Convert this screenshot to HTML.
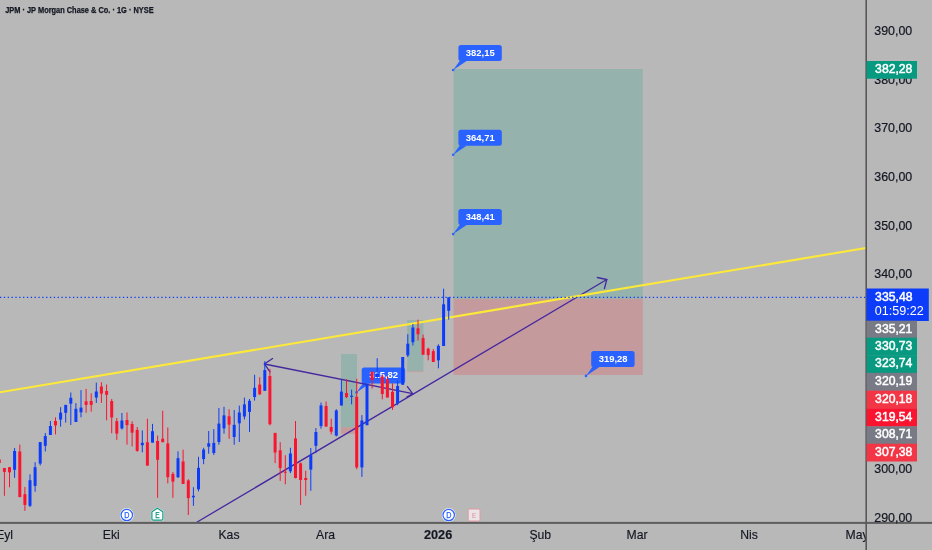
<!DOCTYPE html>
<html lang="tr"><head><meta charset="utf-8"><title>JPM</title>
<style>html,body{margin:0;padding:0;background:#b8b8b8;overflow:hidden}svg{display:block}text{font-family:"Liberation Sans",sans-serif}</style></head><body>
<svg width="932" height="550" viewBox="0 0 932 550">
<rect width="932" height="550" fill="#b8b8b8"/>
<g>
<rect x="341" y="354" width="16" height="73.3" fill="#96b2ac"/>
<rect x="341" y="427.3" width="16" height="6.5" fill="#c49a9d"/>
<rect x="407.2" y="320" width="16.2" height="51.3" fill="#96b2ac"/>
<rect x="407.2" y="371.3" width="16.2" height="0.8" fill="#c49a9d"/>
<rect x="453.5" y="69" width="189.3" height="229.8" fill="#96b2ac"/>
<rect x="453.5" y="298.8" width="189.3" height="76.2" fill="#c49a9d"/>
</g>
<g><circle cx="356.5" cy="392.4" r="1.3" fill="#2962ff"/><path d="M356.5 392.4 L363.3 382.8 L369.9 383.4 Z" fill="#2962ff"/><rect x="361.7" y="367.4" width="43.4" height="16.0" rx="2.5" fill="#2962ff"/><text x="383.6" y="378.3" font-size="9.45" font-weight="700" fill="#fff" text-anchor="middle">315,82</text></g>
<g stroke="#4527a0" stroke-width="1.3" fill="none" stroke-linecap="round">
<path d="M197.2 522 L606.8 279.5"/>
<path d="M597.3 277.5 L606.8 279.5 L604.4 288.6"/>
<path d="M264.4 364 L412.7 393.7"/>
<path d="M272.6 358.5 L264.4 364 L270 371.9"/>
<path d="M407.4 386.6 L412.7 393.7 L406.8 397"/>
</g>
<path d="M-2 392.63 L866 248.0" stroke="#fde937" stroke-width="2.1" fill="none"/>
<g>
<rect x="-1.2" y="457.0" width="1" height="9.0" fill="#fb1430"/>
<rect x="-2.2" y="459.5" width="3" height="3.5" fill="#fb1430"/>
<rect x="3.9" y="468.0" width="1" height="27.8" fill="#fb1430"/>
<rect x="2.9" y="468.0" width="3" height="3.9" fill="#fb1430"/>
<rect x="9.0" y="467.2" width="1" height="20.1" fill="#fb1430"/>
<rect x="8.0" y="467.2" width="3" height="5.1" fill="#fb1430"/>
<rect x="14.1" y="448.0" width="1" height="29.8" fill="#0c3cfa"/>
<rect x="13.1" y="451.0" width="3" height="18.8" fill="#0c3cfa"/>
<rect x="19.3" y="444.6" width="1" height="52.5" fill="#fb1430"/>
<rect x="18.3" y="451.5" width="3" height="45.6" fill="#fb1430"/>
<rect x="24.4" y="486.9" width="1" height="24.0" fill="#fb1430"/>
<rect x="23.4" y="494.2" width="3" height="10.7" fill="#fb1430"/>
<rect x="29.5" y="474.3" width="1" height="32.7" fill="#0c3cfa"/>
<rect x="28.5" y="480.2" width="3" height="25.6" fill="#0c3cfa"/>
<rect x="34.6" y="462.2" width="1" height="29.5" fill="#0c3cfa"/>
<rect x="33.6" y="467.2" width="3" height="18.7" fill="#0c3cfa"/>
<rect x="39.7" y="442.1" width="1" height="23.3" fill="#0c3cfa"/>
<rect x="38.7" y="442.1" width="3" height="21.5" fill="#0c3cfa"/>
<rect x="44.8" y="433.0" width="1" height="18.5" fill="#0c3cfa"/>
<rect x="43.8" y="436.0" width="3" height="9.8" fill="#0c3cfa"/>
<rect x="49.9" y="421.0" width="1" height="14.0" fill="#0c3cfa"/>
<rect x="48.9" y="426.0" width="3" height="9.0" fill="#0c3cfa"/>
<rect x="55.0" y="417.4" width="1" height="17.0" fill="#fb1430"/>
<rect x="54.0" y="421.0" width="3" height="4.4" fill="#fb1430"/>
<rect x="60.1" y="407.2" width="1" height="19.5" fill="#0c3cfa"/>
<rect x="59.1" y="412.6" width="3" height="7.0" fill="#0c3cfa"/>
<rect x="65.2" y="404.9" width="1" height="17.7" fill="#0c3cfa"/>
<rect x="64.2" y="404.9" width="3" height="7.9" fill="#0c3cfa"/>
<rect x="70.3" y="392.5" width="1" height="32.5" fill="#0c3cfa"/>
<rect x="69.3" y="397.8" width="3" height="5.9" fill="#0c3cfa"/>
<rect x="75.4" y="403.1" width="1" height="18.9" fill="#0c3cfa"/>
<rect x="74.4" y="408.8" width="3" height="13.2" fill="#0c3cfa"/>
<rect x="80.5" y="390.1" width="1" height="27.2" fill="#0c3cfa"/>
<rect x="79.5" y="407.6" width="3" height="4.7" fill="#0c3cfa"/>
<rect x="85.6" y="388.9" width="1" height="23.9" fill="#fb1430"/>
<rect x="84.6" y="401.3" width="3" height="3.6" fill="#fb1430"/>
<rect x="90.7" y="393.3" width="1" height="18.4" fill="#fb1430"/>
<rect x="89.7" y="401.0" width="3" height="3.9" fill="#fb1430"/>
<rect x="95.8" y="382.6" width="1" height="20.3" fill="#0c3cfa"/>
<rect x="94.8" y="391.5" width="3" height="6.0" fill="#0c3cfa"/>
<rect x="100.9" y="382.2" width="1" height="20.7" fill="#fb1430"/>
<rect x="99.9" y="386.5" width="3" height="7.1" fill="#fb1430"/>
<rect x="106.1" y="384.5" width="1" height="35.8" fill="#fb1430"/>
<rect x="105.1" y="391.0" width="3" height="3.8" fill="#fb1430"/>
<rect x="111.2" y="399.0" width="1" height="34.3" fill="#fb1430"/>
<rect x="110.2" y="401.0" width="3" height="16.5" fill="#fb1430"/>
<rect x="116.3" y="418.0" width="1" height="21.9" fill="#fb1430"/>
<rect x="115.3" y="421.1" width="3" height="12.5" fill="#fb1430"/>
<rect x="121.4" y="413.0" width="1" height="16.6" fill="#0c3cfa"/>
<rect x="120.4" y="420.5" width="3" height="7.9" fill="#0c3cfa"/>
<rect x="126.5" y="412.4" width="1" height="32.2" fill="#fb1430"/>
<rect x="125.5" y="420.0" width="3" height="5.1" fill="#fb1430"/>
<rect x="131.6" y="421.3" width="1" height="25.1" fill="#fb1430"/>
<rect x="130.6" y="424.0" width="3" height="8.7" fill="#fb1430"/>
<rect x="136.7" y="427.0" width="1" height="24.7" fill="#fb1430"/>
<rect x="135.7" y="429.9" width="3" height="21.0" fill="#fb1430"/>
<rect x="141.8" y="430.4" width="1" height="21.9" fill="#0c3cfa"/>
<rect x="140.8" y="442.8" width="3" height="2.4" fill="#0c3cfa"/>
<rect x="146.9" y="418.8" width="1" height="46.8" fill="#fb1430"/>
<rect x="145.9" y="442.2" width="3" height="23.4" fill="#fb1430"/>
<rect x="152.0" y="423.9" width="1" height="18.7" fill="#0c3cfa"/>
<rect x="151.0" y="431.2" width="3" height="11.4" fill="#0c3cfa"/>
<rect x="157.1" y="435.5" width="1" height="62.3" fill="#fb1430"/>
<rect x="156.1" y="441.0" width="3" height="18.8" fill="#fb1430"/>
<rect x="162.2" y="410.7" width="1" height="31.5" fill="#fb1430"/>
<rect x="161.2" y="438.7" width="3" height="3.5" fill="#fb1430"/>
<rect x="167.3" y="427.5" width="1" height="55.9" fill="#fb1430"/>
<rect x="166.3" y="443.4" width="3" height="33.8" fill="#fb1430"/>
<rect x="172.4" y="472.1" width="1" height="25.7" fill="#fb1430"/>
<rect x="171.4" y="473.9" width="3" height="7.7" fill="#fb1430"/>
<rect x="177.5" y="451.3" width="1" height="26.7" fill="#0c3cfa"/>
<rect x="176.5" y="458.2" width="3" height="19.0" fill="#0c3cfa"/>
<rect x="182.6" y="449.7" width="1" height="34.3" fill="#fb1430"/>
<rect x="181.6" y="461.5" width="3" height="22.5" fill="#fb1430"/>
<rect x="187.8" y="479.2" width="1" height="35.8" fill="#fb1430"/>
<rect x="186.8" y="480.4" width="3" height="17.7" fill="#fb1430"/>
<rect x="192.9" y="487.2" width="1" height="18.6" fill="#0c3cfa"/>
<rect x="191.9" y="495.8" width="3" height="1.5" fill="#0c3cfa"/>
<rect x="198.0" y="456.8" width="1" height="34.6" fill="#0c3cfa"/>
<rect x="197.0" y="467.8" width="3" height="21.5" fill="#0c3cfa"/>
<rect x="203.1" y="447.8" width="1" height="16.4" fill="#0c3cfa"/>
<rect x="202.1" y="449.6" width="3" height="9.5" fill="#0c3cfa"/>
<rect x="208.2" y="431.0" width="1" height="22.7" fill="#0c3cfa"/>
<rect x="207.2" y="443.3" width="3" height="3.4" fill="#0c3cfa"/>
<rect x="213.3" y="429.1" width="1" height="25.9" fill="#0c3cfa"/>
<rect x="212.3" y="442.9" width="3" height="10.1" fill="#0c3cfa"/>
<rect x="218.4" y="408.0" width="1" height="36.7" fill="#0c3cfa"/>
<rect x="217.4" y="423.6" width="3" height="18.4" fill="#0c3cfa"/>
<rect x="223.5" y="406.8" width="1" height="26.9" fill="#0c3cfa"/>
<rect x="222.5" y="415.4" width="3" height="13.0" fill="#0c3cfa"/>
<rect x="228.6" y="409.3" width="1" height="29.5" fill="#fb1430"/>
<rect x="227.6" y="416.3" width="3" height="8.3" fill="#fb1430"/>
<rect x="233.7" y="410.0" width="1" height="34.7" fill="#0c3cfa"/>
<rect x="232.7" y="424.8" width="3" height="12.2" fill="#0c3cfa"/>
<rect x="238.8" y="405.6" width="1" height="36.4" fill="#0c3cfa"/>
<rect x="237.8" y="412.5" width="3" height="10.8" fill="#0c3cfa"/>
<rect x="243.9" y="397.6" width="1" height="21.9" fill="#0c3cfa"/>
<rect x="242.9" y="404.4" width="3" height="12.1" fill="#0c3cfa"/>
<rect x="249.0" y="399.0" width="1" height="32.9" fill="#0c3cfa"/>
<rect x="248.0" y="400.8" width="3" height="11.1" fill="#0c3cfa"/>
<rect x="254.1" y="374.8" width="1" height="25.8" fill="#0c3cfa"/>
<rect x="253.1" y="387.8" width="3" height="9.2" fill="#0c3cfa"/>
<rect x="259.2" y="377.2" width="1" height="17.7" fill="#fb1430"/>
<rect x="258.2" y="384.6" width="3" height="9.7" fill="#fb1430"/>
<rect x="264.3" y="361.2" width="1" height="29.6" fill="#0c3cfa"/>
<rect x="263.3" y="370.1" width="3" height="20.7" fill="#0c3cfa"/>
<rect x="269.4" y="368.9" width="1" height="56.5" fill="#fb1430"/>
<rect x="268.4" y="376.0" width="3" height="48.2" fill="#fb1430"/>
<rect x="274.6" y="432.9" width="1" height="30.2" fill="#fb1430"/>
<rect x="273.6" y="432.9" width="3" height="19.6" fill="#fb1430"/>
<rect x="279.7" y="442.2" width="1" height="38.6" fill="#fb1430"/>
<rect x="278.7" y="450.3" width="3" height="17.8" fill="#fb1430"/>
<rect x="284.8" y="455.2" width="1" height="29.1" fill="#fb1430"/>
<rect x="283.8" y="471.7" width="3" height="1.0" fill="#fb1430"/>
<rect x="289.9" y="447.8" width="1" height="25.3" fill="#0c3cfa"/>
<rect x="288.9" y="453.5" width="3" height="17.8" fill="#0c3cfa"/>
<rect x="295.0" y="421.0" width="1" height="57.4" fill="#fb1430"/>
<rect x="294.0" y="438.4" width="3" height="39.6" fill="#fb1430"/>
<rect x="300.1" y="462.5" width="1" height="42.5" fill="#fb1430"/>
<rect x="299.1" y="463.3" width="3" height="16.7" fill="#fb1430"/>
<rect x="305.2" y="470.7" width="1" height="25.1" fill="#fb1430"/>
<rect x="304.2" y="478.0" width="3" height="2.0" fill="#fb1430"/>
<rect x="310.3" y="448.0" width="1" height="42.8" fill="#0c3cfa"/>
<rect x="309.3" y="455.1" width="3" height="14.5" fill="#0c3cfa"/>
<rect x="315.4" y="428.1" width="1" height="25.0" fill="#0c3cfa"/>
<rect x="314.4" y="432.0" width="3" height="13.8" fill="#0c3cfa"/>
<rect x="320.5" y="402.5" width="1" height="26.2" fill="#0c3cfa"/>
<rect x="319.5" y="405.4" width="3" height="20.7" fill="#0c3cfa"/>
<rect x="325.6" y="401.5" width="1" height="25.1" fill="#fb1430"/>
<rect x="324.6" y="406.0" width="3" height="20.6" fill="#fb1430"/>
<rect x="330.7" y="418.7" width="1" height="15.7" fill="#fb1430"/>
<rect x="329.7" y="427.0" width="3" height="4.7" fill="#fb1430"/>
<rect x="335.8" y="409.2" width="1" height="27.2" fill="#0c3cfa"/>
<rect x="334.8" y="410.4" width="3" height="25.2" fill="#0c3cfa"/>
<rect x="340.9" y="379.9" width="1" height="25.6" fill="#0c3cfa"/>
<rect x="339.9" y="391.6" width="3" height="13.9" fill="#0c3cfa"/>
<rect x="346.0" y="379.3" width="1" height="18.8" fill="#fb1430"/>
<rect x="345.0" y="393.0" width="3" height="4.1" fill="#fb1430"/>
<rect x="351.1" y="389.6" width="1" height="14.7" fill="#0c3cfa"/>
<rect x="350.1" y="395.7" width="3" height="1.2" fill="#0c3cfa"/>
<rect x="356.2" y="378.7" width="1" height="90.6" fill="#fb1430"/>
<rect x="355.2" y="396.8" width="3" height="70.6" fill="#fb1430"/>
<rect x="361.4" y="415.1" width="1" height="61.8" fill="#0c3cfa"/>
<rect x="360.4" y="420.5" width="3" height="46.9" fill="#0c3cfa"/>
<rect x="366.5" y="384.5" width="1" height="40.7" fill="#0c3cfa"/>
<rect x="365.5" y="384.5" width="3" height="40.7" fill="#0c3cfa"/>
<rect x="371.6" y="371.0" width="1" height="17.6" fill="#fb1430"/>
<rect x="370.6" y="372.0" width="3" height="8.0" fill="#fb1430"/>
<rect x="376.7" y="358.2" width="1" height="20.8" fill="#0c3cfa"/>
<rect x="375.7" y="374.0" width="3" height="3.0" fill="#0c3cfa"/>
<rect x="381.8" y="374.5" width="1" height="24.8" fill="#fb1430"/>
<rect x="380.8" y="376.6" width="3" height="17.4" fill="#fb1430"/>
<rect x="386.9" y="376.3" width="1" height="21.2" fill="#fb1430"/>
<rect x="385.9" y="379.3" width="3" height="18.2" fill="#fb1430"/>
<rect x="392.0" y="383.4" width="1" height="26.5" fill="#fb1430"/>
<rect x="391.0" y="391.8" width="3" height="15.5" fill="#fb1430"/>
<rect x="397.1" y="380.8" width="1" height="24.4" fill="#0c3cfa"/>
<rect x="396.1" y="385.9" width="3" height="17.2" fill="#0c3cfa"/>
<rect x="402.2" y="357.0" width="1" height="28.0" fill="#0c3cfa"/>
<rect x="401.2" y="357.0" width="3" height="27.7" fill="#0c3cfa"/>
<rect x="407.3" y="334.2" width="1" height="22.8" fill="#0c3cfa"/>
<rect x="406.3" y="343.7" width="3" height="11.6" fill="#0c3cfa"/>
<rect x="412.4" y="324.0" width="1" height="21.5" fill="#0c3cfa"/>
<rect x="411.4" y="327.5" width="3" height="14.7" fill="#0c3cfa"/>
<rect x="417.5" y="319.7" width="1" height="20.8" fill="#fb1430"/>
<rect x="416.5" y="328.3" width="3" height="5.9" fill="#fb1430"/>
<rect x="422.6" y="334.6" width="1" height="20.1" fill="#fb1430"/>
<rect x="421.6" y="338.1" width="3" height="16.6" fill="#fb1430"/>
<rect x="427.7" y="347.7" width="1" height="12.6" fill="#fb1430"/>
<rect x="426.7" y="348.7" width="3" height="6.4" fill="#fb1430"/>
<rect x="432.8" y="349.0" width="1" height="13.0" fill="#fb1430"/>
<rect x="431.8" y="351.1" width="3" height="10.9" fill="#fb1430"/>
<rect x="437.9" y="344.3" width="1" height="24.0" fill="#0c3cfa"/>
<rect x="436.9" y="345.8" width="3" height="14.5" fill="#0c3cfa"/>
<rect x="443.1" y="288.7" width="1" height="57.3" fill="#0c3cfa"/>
<rect x="442.1" y="304.3" width="3" height="41.7" fill="#0c3cfa"/>
<rect x="448.2" y="297.4" width="1" height="22.2" fill="#0c3cfa"/>
<rect x="447.2" y="297.4" width="3" height="13.4" fill="#0c3cfa"/>
</g>
<path d="M0 297.3 L866 297.3" stroke="#0c3cfa" stroke-width="1.2" stroke-dasharray="1.3 2.54" fill="none"/>
<g><circle cx="453.2" cy="70.0" r="1.3" fill="#2962ff"/><path d="M453.2 70.0 L460.0 60.4 L466.6 61.0 Z" fill="#2962ff"/><rect x="458.4" y="45.0" width="43.4" height="16.0" rx="2.5" fill="#2962ff"/><text x="480.3" y="56.0" font-size="9.45" font-weight="700" fill="#fff" text-anchor="middle">382,15</text></g>
<g><circle cx="453.2" cy="154.7" r="1.3" fill="#2962ff"/><path d="M453.2 154.7 L460.0 145.1 L466.6 145.7 Z" fill="#2962ff"/><rect x="458.4" y="129.7" width="43.4" height="16.0" rx="2.5" fill="#2962ff"/><text x="480.3" y="140.6" font-size="9.45" font-weight="700" fill="#fff" text-anchor="middle">364,71</text></g>
<g><circle cx="453.2" cy="234.1" r="1.3" fill="#2962ff"/><path d="M453.2 234.1 L460.0 224.5 L466.6 225.1 Z" fill="#2962ff"/><rect x="458.4" y="209.1" width="43.4" height="16.0" rx="2.5" fill="#2962ff"/><text x="480.3" y="220.0" font-size="9.45" font-weight="700" fill="#fff" text-anchor="middle">348,41</text></g>
<g><circle cx="586.0" cy="375.9" r="1.3" fill="#2962ff"/><path d="M586.0 375.9 L592.8 366.3 L599.4 366.9 Z" fill="#2962ff"/><rect x="591.2" y="350.9" width="43.4" height="16.0" rx="2.5" fill="#2962ff"/><text x="613.1" y="361.8" font-size="9.45" font-weight="700" fill="#fff" text-anchor="middle">319,28</text></g>
<circle cx="126.8" cy="515.0" r="6.9" fill="#f4f4f4"/><circle cx="126.8" cy="515.0" r="5.7" fill="#fff" stroke="#2962ff" stroke-width="1.2"/><text x="126.9" y="518.0" font-size="8.4" fill="#2962ff" stroke="#2962ff" stroke-width="0.25" text-anchor="middle" textLength="5.2" lengthAdjust="spacingAndGlyphs">D</text>
<circle cx="448.7" cy="515.0" r="6.9" fill="#f4f4f4"/><circle cx="448.7" cy="515.0" r="5.7" fill="#fff" stroke="#2962ff" stroke-width="1.2"/><text x="448.8" y="518.0" font-size="8.4" fill="#2962ff" stroke="#2962ff" stroke-width="0.25" text-anchor="middle" textLength="5.2" lengthAdjust="spacingAndGlyphs">D</text>
<path d="M157.4 507.2 L163.9 511.3 L163.9 519.6 Q163.9 521 162.5 521 L152.3 521 Q150.9 521 150.9 519.6 L150.9 511.3 Z" fill="#f4f4f4"/>
<path d="M157.4 508.3 L162.9 511.8 L162.9 519 Q162.9 520.2 161.7 520.2 L153.1 520.2 Q151.9 520.2 151.9 519 L151.9 511.8 Z" fill="#fff" stroke="#089981" stroke-width="1.2"/>
<text x="157.4" y="518.4" font-size="8.2" fill="#089981" stroke="#089981" stroke-width="0.25" text-anchor="middle" textLength="4.4" lengthAdjust="spacingAndGlyphs">E</text>
<rect x="468.2" y="509" width="11.8" height="12" rx="1.5" fill="#ebe4e6" stroke="#e29aa4" stroke-width="1"/>
<text x="474.2" y="518" font-size="8" fill="#dc8c98" text-anchor="middle" textLength="4.2" lengthAdjust="spacingAndGlyphs">E</text>
<rect x="866.5" y="0" width="66" height="550" fill="#b8b8b8"/>
<rect x="0" y="523" width="932" height="27" fill="#b8b8b8"/>
<rect x="0" y="521.9" width="932" height="2" fill="#5e5e5e"/>
<rect x="865.4" y="0" width="1.6" height="550" fill="#585858"/>
<text x="874.3" y="34.9" font-size="12.4" fill="#131722" stroke="#131722" stroke-width="0.2">390,00</text>
<text x="874.3" y="83.6" font-size="12.4" fill="#131722" stroke="#131722" stroke-width="0.2">380,00</text>
<text x="874.3" y="132.3" font-size="12.4" fill="#131722" stroke="#131722" stroke-width="0.2">370,00</text>
<text x="874.3" y="181.0" font-size="12.4" fill="#131722" stroke="#131722" stroke-width="0.2">360,00</text>
<text x="874.3" y="229.7" font-size="12.4" fill="#131722" stroke="#131722" stroke-width="0.2">350,00</text>
<text x="874.3" y="278.4" font-size="12.4" fill="#131722" stroke="#131722" stroke-width="0.2">340,00</text>
<text x="874.3" y="473.2" font-size="12.4" fill="#131722" stroke="#131722" stroke-width="0.2">300,00</text>
<text x="874.3" y="521.9" font-size="12.4" fill="#131722" stroke="#131722" stroke-width="0.2">290,00</text>
<rect x="866.5" y="61.0" width="50.5" height="17.7" fill="#089981"/><text x="875.1" y="73.1" font-size="12.8" fill="#fff" stroke="#fff" stroke-width="0.5" textLength="37.3" lengthAdjust="spacingAndGlyphs">382,28</text>
<rect x="866.5" y="288.5" width="62.3" height="32.5" fill="#0c3cfa"/><text x="875.1" y="301.0" font-size="12.8" fill="#fff" stroke="#fff" stroke-width="0.5" textLength="37.4" lengthAdjust="spacingAndGlyphs">335,48</text><text x="874.8" y="315.1" font-size="12.8" fill="#fff" textLength="49" lengthAdjust="spacingAndGlyphs">01:59:22</text>
<rect x="866.5" y="320.7" width="50.5" height="17.3" fill="#787b86"/><text x="875.1" y="332.6" font-size="12.8" fill="#fff" stroke="#fff" stroke-width="0.5" textLength="37.3" lengthAdjust="spacingAndGlyphs">335,21</text>
<rect x="866.5" y="337.7" width="50.5" height="17.8" fill="#089981"/><text x="875.1" y="349.8" font-size="12.8" fill="#fff" stroke="#fff" stroke-width="0.5" textLength="37.3" lengthAdjust="spacingAndGlyphs">330,73</text>
<rect x="866.5" y="355.2" width="50.5" height="17.9" fill="#089981"/><text x="875.1" y="367.4" font-size="12.8" fill="#fff" stroke="#fff" stroke-width="0.5" textLength="37.3" lengthAdjust="spacingAndGlyphs">323,74</text>
<rect x="866.5" y="372.8" width="50.5" height="18.1" fill="#787b86"/><text x="875.1" y="385.1" font-size="12.8" fill="#fff" stroke="#fff" stroke-width="0.5" textLength="37.3" lengthAdjust="spacingAndGlyphs">320,19</text>
<rect x="866.5" y="390.6" width="50.5" height="18.1" fill="#f23645"/><text x="875.1" y="402.9" font-size="12.8" fill="#fff" stroke="#fff" stroke-width="0.5" textLength="37.3" lengthAdjust="spacingAndGlyphs">320,18</text>
<rect x="866.5" y="408.4" width="50.5" height="18.2" fill="#fb1430"/><text x="875.1" y="420.8" font-size="12.8" fill="#fff" stroke="#fff" stroke-width="0.5" textLength="37.3" lengthAdjust="spacingAndGlyphs">319,54</text>
<rect x="866.5" y="426.3" width="50.5" height="17.7" fill="#787b86"/><text x="875.1" y="438.4" font-size="12.8" fill="#fff" stroke="#fff" stroke-width="0.5" textLength="37.3" lengthAdjust="spacingAndGlyphs">308,71</text>
<rect x="866.5" y="443.7" width="50.5" height="17.8" fill="#f23645"/><text x="875.1" y="455.8" font-size="12.8" fill="#fff" stroke="#fff" stroke-width="0.5" textLength="37.3" lengthAdjust="spacingAndGlyphs">307,38</text>
<clipPath id="tc"><rect x="0" y="523" width="865.6" height="27"/></clipPath>
<g clip-path="url(#tc)" font-size="12.2" fill="#131722" stroke="#131722" stroke-width="0.15" text-anchor="middle">
<text x="4.6" y="539.1">Eyl</text>
<text x="111.3" y="539.1">Eki</text>
<text x="229.0" y="539.1">Kas</text>
<text x="325.6" y="539.1">Ara</text>
<text x="438.1" y="539.1" font-weight="700" textLength="28.3" lengthAdjust="spacingAndGlyphs">2026</text>
<text x="540.3" y="539.1">Şub</text>
<text x="637.0" y="539.1">Mar</text>
<text x="749.0" y="539.1">Nis</text>
<text x="857.0" y="539.1">May</text>
</g>
<text x="5.2" y="12.9" font-size="8.6" font-weight="700" stroke="#131722" stroke-width="0.25" fill="#131722" textLength="148.4" lengthAdjust="spacingAndGlyphs">JPM · JP Morgan Chase &amp; Co. · 1G · NYSE</text>
</svg></body></html>
